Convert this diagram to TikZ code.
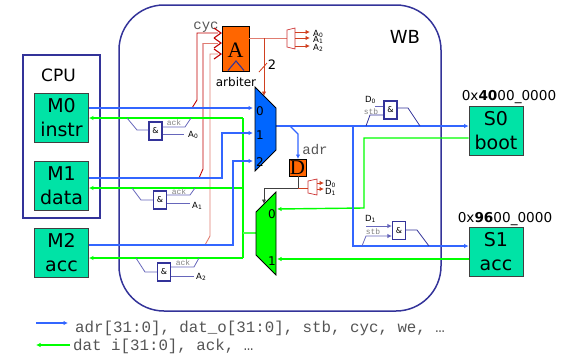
\documentclass[tikz,border=0pt]{standalone}
\usepackage{fontspec}
\setmainfont{DejaVu Sans}
\setmonofont{Liberation Mono}
\newfontfamily\serifreg{Liberation Serif}
\usetikzlibrary{arrows.meta}
\definecolor{tealbox}{HTML}{00E3A6}
\definecolor{wbblue}{HTML}{333399}
\definecolor{busblue}{HTML}{3366FF}
\definecolor{busgreen}{HTML}{00FF00}
\definecolor{muxblue}{HTML}{0066FF}
\definecolor{orangeb}{HTML}{FF6600}
\definecolor{dred}{HTML}{C00000}
\definecolor{salmon}{HTML}{E07C70}
\definecolor{redor}{HTML}{D04020}
\definecolor{gline}{HTML}{6666BB}
\definecolor{monog}{HTML}{555555}
\newcommand{\fsz}[1]{\fontsize{#1}{#1}\selectfont}
\tikzset{
  x=1pt,y=-1pt,
  smalltip/.style={-{Latex[length=4.5pt,width=4.5pt]}},
  bluebus/.style={busblue,line width=1.4pt},
  greenbus/.style={busgreen,line width=1.4pt},
  teal/.style={draw=black!75,line width=0.8pt,fill=tealbox,minimum width=54pt,minimum height=49pt,inner sep=0pt,align=center,font=\fsz{19}},
  andgate/.style={draw=wbblue,line width=1.3pt,fill=white,minimum width=13pt,minimum height=18pt,inner sep=0pt,font=\fsz{8}},
  gwire/.style={gline,line width=0.8pt},
  monolab/.style={font=\ttfamily\fsz{14},text=monog,inner sep=0pt},
  tinymono/.style={font=\ttfamily\fsz{8},text=gray,inner sep=0pt},
  siglab/.style={font=\fsz{8.5},inner sep=0pt,anchor=west},
  chev/.style={line width=1.1pt},
  legend/.style={font=\ttfamily\fsz{15.8},text=monog,inner sep=0pt,anchor=base west},
}
\begin{document}
\begin{tikzpicture}
\useasboundingbox (0,0) rectangle (563,354);
% containers
\node[draw=wbblue,line width=1.5pt,rounded corners=45pt,minimum width=322pt,minimum height=306pt,inner sep=0pt] (wb) at (280,158) {};
\node[draw=wbblue,line width=1.5pt,minimum width=77pt,minimum height=163pt,inner sep=0pt] (cpu) at (61.5,136.5) {};
\node[font=\fsz{17},inner sep=0pt] (cpul) at (58.5,75) {CPU};
\node[font=\fsz{18},inner sep=0pt] (wbl) at (405,37) {WB};
% masters and slaves
\node[teal] (m0) at (61.5,117.5) {M0\\[5pt]instr};
\node[teal] (m1) at (61.5,185.5) {M1\\[5pt]data};
\node[teal] (m2) at (61.5,253) {M2\\[5pt]acc};
\node[teal] (s0) at (496,131) {S0\\[5pt]boot};
\node[teal] (s1) at (496,252) {S1\\[5pt]acc};
\node[font=\fsz{13.6},inner sep=0pt,anchor=base] (a0) at (509,100) {0x{\bfseries 40}00\_0000};
\node[font=\fsz{13.6},inner sep=0pt,anchor=base] (a1) at (505,222) {0x{\bfseries 96}00\_0000};
% named points
\coordinate (bm0) at (253,108);
\coordinate (bm1) at (253,133);
\coordinate (bm2) at (253,161);
\coordinate (bout) at (276,126);
\coordinate (gm0) at (277,209);
\coordinate (gm1) at (277,259);
\coordinate (gbus) at (243,118);
% arbiter request lines
\draw[dred,line width=0.9pt] (192,108) -- (197,100) -- (197,33) -- (218,33);
\draw[dred,line width=0.9pt] (199,178) -- (203,169) -- (203,43);
\draw[salmon,line width=0.9pt] (203,43) -- (218,43);
\draw[salmon,line width=0.9pt] (205,245) -- (210,236) -- (210,54) -- (218,54);
% green buses
\draw[greenbus,smalltip] (gbus) -- (m0.east |- gbus);
\draw[greenbus,smalltip] (243,188) -- (m1.east |- 0,188);
\draw[greenbus,smalltip] (243,258) -- (m2.east |- 0,258);
\draw[greenbus] (gbus) -- (243,258);
\draw[busgreen!70!white,line width=1.2pt] (243,233) -- (257,233);
\draw[greenbus,smalltip] (s0.west |- 0,138) -- (364,138) -- (364,208) -- (gm0);
\draw[greenbus,smalltip] (s1.west |- 0,259) -- (gm1);
% blue buses
\draw[bluebus,smalltip] (m0.east |- bm0) -- (bm0);
\draw[bluebus,smalltip] (m1.east |- 0,178) -- (222,178) -- (222,133) -- (bm1);
\draw[bluebus,smalltip] (m2.east |- 0,245) -- (233,245) -- (233,161) -- (bm2);
\draw[bluebus,smalltip] (bout) -- (s0.west |- bout);
\draw[bluebus,smalltip] (353,126) -- (353,246) -- (s1.west |- 0,246);
% arbiter
\node[draw=black,line width=0.9pt,fill=orangeb,minimum width=27pt,minimum height=45pt,inner sep=0pt] (arb) at (235.5,48.5) {};
\node[font=\serifreg\fsz{22},inner sep=0pt] (arbA) at (235.5,50) {A};
\draw[wbblue,line width=1.1pt] (228,70.5) -- (236,61) -- (244,70.5);
\node[font=\fsz{12},inner sep=0pt] (arbl) at (236,82) {arbiter};
\node[monolab] (cyc) at (206,27) {cyc};
\draw[dred,chev] (214,28) -- (221,33) -- (214,38);
\draw[dred,chev] (214,38) -- (221,43) -- (214,48);
\draw[dred,chev] (214,49) -- (221,54) -- (214,59);
% arbiter outputs
\coordinate (aout) at (264,38);
\draw[salmon,line width=1pt] (arb.east |- aout) -- (287,38);
\draw[redor,line width=0.9pt,smalltip] (aout) -- (264,96);
\draw[redor,line width=0.8pt] (259,72) -- (267,63);
\node[font=\fsz{13},inner sep=0pt] (two) at (272,65) {2};
\draw[dred!80!white,line width=0.7pt,fill=white] (287,30) -- (295,28) -- (295,49) -- (287,47) -- cycle;
\foreach \y/\n in {32/0,38/1,46/2}{
  \draw[redor,line width=0.9pt,smalltip] (295,\y) -- (310,\y);
}
\node[siglab] (A0a) at (313,34) {A\textsubscript{0}};
\node[siglab] (A1a) at (313,40) {A\textsubscript{1}};
\node[siglab] (A2a) at (313,48) {A\textsubscript{2}};
% blue mux
\draw[black,line width=0.8pt,fill=muxblue] (255,87) -- (276,108) -- (276,150) -- (255,171) -- cycle;
\node[font=\fsz{12},inner sep=0pt] (n0) at (260,111) {0};
\node[font=\fsz{12},inner sep=0pt] (n1) at (260,135) {1};
\node[font=\fsz{12},inner sep=0pt] (n2) at (260,162) {2};
% decoder D
\node[draw=black,line width=0.7pt,fill=orangeb,minimum width=17pt,minimum height=17pt,inner sep=0pt] (dreg) at (297.5,167.5) {};
\node[font=\serifreg\fsz{21},inner sep=0pt] (dregl) at (297.5,168) {D};
\node[monolab] (adr) at (315,150) {adr};
\draw[bluebus,smalltip] (290,126) -- (298,134) -- (298,159);
\draw[black!75,line width=0.9pt,smalltip] (298,176) -- (298,188) -- (264,188) -- (264,204);
\draw[redor,line width=0.8pt] (298,188) -- (308,188);
\draw[dred!80!white,line width=0.7pt,fill=white] (308,181) -- (317,179) -- (317,195) -- (308,193) -- cycle;
\draw[redor,line width=0.9pt,smalltip] (317,183) -- (324,183);
\draw[redor,line width=0.9pt,smalltip] (317,189) -- (324,189);
\node[siglab] (D0a) at (325,184) {D\textsubscript{0}};
\node[siglab] (D1a) at (325,192) {D\textsubscript{1}};
% green mux
\draw[black,line width=0.8pt,fill=busgreen] (256,212) -- (276,192) -- (276,275) -- (256,255) -- cycle;
\node[font=\fsz{12},inner sep=0pt] (g0) at (272,214) {0};
\node[font=\fsz{12},inner sep=0pt] (g1) at (272,261) {1};
% ack gates
\node[andgate] (and0) at (155.5,131) {\&};
\draw[gwire] (127,118) -- (137,130) -- (and0.west |- 0,130);
\draw[gwire] (191,118) -- (185,127) -- (and0.east |- 0,127);
\draw[gwire] (and0.east |- 0,134) -- (184,134);
\node[tinymono] (ack0) at (174,123) {ack};
\node[siglab] (A0b) at (188,135) {A\textsubscript{0}};
\node[andgate] (and1) at (160,200) {\&};
\draw[gwire] (132,188) -- (141,200) -- (and1.west);
\draw[gwire] (195,188) -- (190,195) -- (and1.east |- 0,195);
\draw[gwire] (and1.east |- 0,203) -- (190,203);
\node[tinymono] (ack1) at (179,192) {ack};
\node[siglab] (A1b) at (192,206) {A\textsubscript{1}};
\node[andgate] (and2) at (164,272) {\&};
\draw[gwire] (136,258) -- (145,272) -- (and2.west);
\draw[gwire] (199,258) -- (194,267) -- (and2.east |- 0,267);
\draw[gwire] (and2.east |- 0,276) -- (194,276);
\node[tinymono] (ack2) at (183,263) {ack};
\node[siglab] (A2b) at (196,277) {A\textsubscript{2}};
% stb gates
\node[andgate] (and3) at (390.5,110) {\&};
\draw[gwire] (375,106) -- (and3.west |- 0,106);
\draw[wbblue,line width=0.8pt] (366,126) -- (370,115) -- (and3.west |- 0,115);
\draw[wbblue,line width=0.8pt] (and3.east |- 0,108) -- (408,108) -- (420,126);
\node[siglab] (D0b) at (365,100) {D\textsubscript{0}};
\node[tinymono] (stb0) at (371,112) {stb};
\node[andgate] (and4) at (399,230.5) {\&};
\draw[gwire,smalltip] (366,226) -- (and4.west |- 0,226);
\draw[gwire,smalltip] (362,246) -- (366,236) -- (and4.west |- 0,236);
\draw[wbblue,line width=0.8pt] (and4.east |- 0,230) -- (417,230) -- (429,246);
\node[siglab] (D1b) at (365,219) {D\textsubscript{1}};
\node[tinymono] (stb1) at (373,232) {stb};
% legend
\coordinate (l1a) at (36,323); \coordinate (l1b) at (68,323);
\coordinate (l2a) at (70,345); \coordinate (l2b) at (36,345);
\draw[bluebus,smalltip] (l1a) -- (l1b);
\draw[greenbus,smalltip] (l2a) -- (l2b);
\node[legend] (leg1) at (75,332) {adr[31:0], dat\_o[31:0], stb, cyc, we, …};
\node[legend] (leg2) at (73,350.5) {dat i[31:0], ack, …};
\end{tikzpicture}
\end{document}
